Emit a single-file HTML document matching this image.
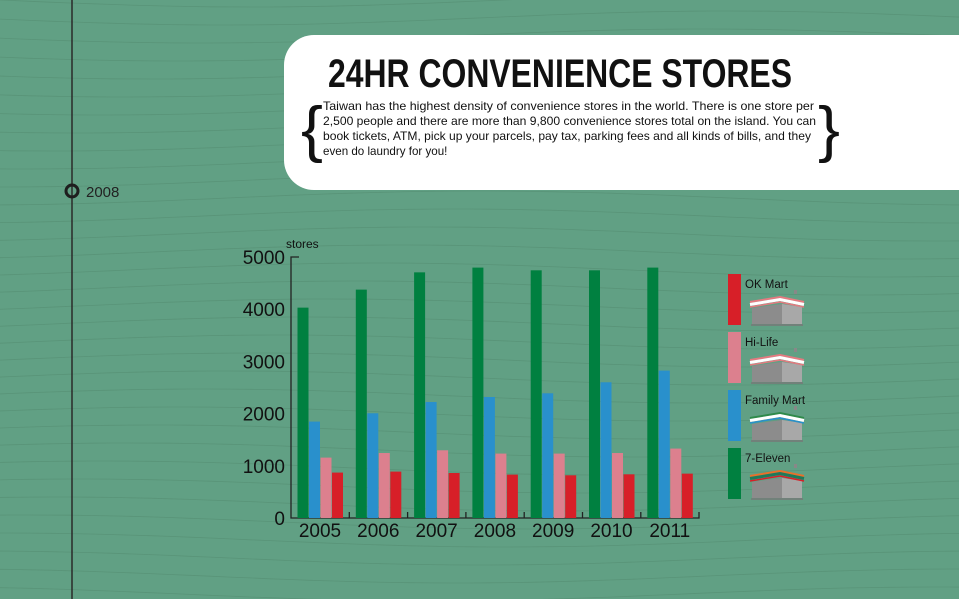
<!DOCTYPE html>
<html><head><meta charset="utf-8"><style>
html,body{margin:0;padding:0;width:959px;height:599px;overflow:hidden;background:#61a084}
svg{display:block}
text{font-family:"Liberation Sans",sans-serif}
</style></head><body>
<svg id="c" width="959" height="599" viewBox="0 0 959 599">
<g id="waves"></g>
<line x1="72" y1="0" x2="72" y2="599" stroke="#2a2a2a" stroke-width="1.5"/>
<circle cx="72" cy="191" r="6" fill="none" stroke="#1e1e1e" stroke-width="3"/>
<text x="86" y="197" font-size="15" fill="#222">2008</text>
<g>
<rect x="284" y="35" width="720" height="155" rx="30" fill="#fff"/>
<text x="328" y="87" font-size="40" font-weight="bold" textLength="464" lengthAdjust="spacingAndGlyphs" fill="#111">24HR CONVENIENCE STORES</text>
<text x="301" y="150" font-size="62" font-family="Liberation Serif" fill="#111" textLength="22" lengthAdjust="spacingAndGlyphs">{</text>
<text x="818" y="150" font-size="62" font-family="Liberation Serif" fill="#111" textLength="22" lengthAdjust="spacingAndGlyphs">}</text>
<g font-size="11.6" fill="#111">
<text x="323" y="110" textLength="491" lengthAdjust="spacingAndGlyphs">Taiwan has the highest density of convenience stores in the world. There is one store per</text>
<text x="323" y="125" textLength="493" lengthAdjust="spacingAndGlyphs">2,500 people and there are more than 9,800 convenience stores total on the island. You can</text>
<text x="323" y="140" textLength="488" lengthAdjust="spacingAndGlyphs">book tickets, ATM, pick up your parcels, pay tax, parking fees and all kinds of bills, and they</text>
<text x="323" y="155">even do laundry for you!</text>
</g>
</g>
<g id="chart"></g>
<g id="legend"></g>
</svg>
<script>
const years=["2005","2006","2007","2008","2009","2010","2011"];
const sevenEleven=[4030,4375,4706,4797,4745,4745,4797];
const familyMart=[1847,2006,2222,2318,2389,2600,2824];
const hiLife=[1157,1245,1297,1234,1234,1245,1330];
const okMart=[870,889,862,831,818,837,850];
const yTicks=[0,1000,2000,3000,4000,5000];
const seriesNames=["7-Eleven","Family Mart","Hi-Life","OK Mart"];
const seriesColors=["#008040","#2990cc","#dc808e","#d71f28"];
const NS="http://www.w3.org/2000/svg";
function mk(tag,attrs,parent){const e=document.createElementNS(NS,tag);for(const k in attrs)e.setAttribute(k,attrs[k]);parent.appendChild(e);return e;}
// waves
const w=document.getElementById('waves');
for(let i=-2;i<34;i++){const y0=i*18;let d="M-10 "+y0;for(let x=-10;x<=970;x+=20){d+=" L"+x+" "+(y0+Math.sin((x+i*25)/160)*7).toFixed(1);}
const p=mk('path',{d:d,fill:"none",stroke:"#558f74","stroke-width":"0.8",opacity:"0.7"},w);

}
// chart
const g=document.getElementById('chart');
const X0=291,Y0=518,PX_PER=52.2/1000,GW=58.3,BW=11.5;
const y=v=>Y0-v*PX_PER;
const xg=i=>X0+i*GW;
const ax=mk('path',{d:`M${X0+8} ${y(5000)} H${X0} V${Y0} H699 V${Y0-6}`,fill:"none",stroke:"#222","stroke-width":"1.3"},g);


yTicks.forEach(t=>{const tx=mk('text',{x:X0-6,y:y(t)+7,"font-size":"19","text-anchor":"end",fill:"#111"},g);tx.textContent=t;

});
const yl=mk('text',{x:286,y:248,"font-size":"12",fill:"#111"},g);yl.textContent="stores";


const all=[sevenEleven,familyMart,hiLife,okMart];
years.forEach((yr,i)=>{
 if(i>0){const tk=mk('line',{x1:xg(i),x2:xg(i),y1:Y0,y2:Y0-6,stroke:"#222","stroke-width":"1.3"},g);
 
 }
 all.forEach((s,k)=>{const r=mk('rect',{x:xg(i)+6.5+k*BW,y:y(s[i]),width:BW-0.5,height:Y0-y(s[i]),fill:seriesColors[k]},g);
 
 });
 const lt=mk('text',{x:xg(i)+29,y:Y0+19,"font-size":"19","text-anchor":"middle",fill:"#111"},g);lt.textContent=yr;
 
 
});
// legend
const L=document.getElementById('legend');
const roofTop=["#e47a80","#e47a80","#2f8a4a","#e8702a"];
const roofMid=["#ffffff","#ffffff","#ffffff","#1f7a5a"];
const roofBot=["#e47a80","#e47a80","#2990cc","#d71f28"];
["OK Mart","Hi-Life","Family Mart","7-Eleven"].forEach((n,j)=>{
 const k=seriesNames.indexOf(n),top=274+j*58;
 const e=mk('g',{},L);
 
 
 mk('rect',{x:728,y:top,width:13,height:51,fill:seriesColors[k]},e);
 const t=mk('text',{x:745,y:top+14,"font-size":"11.5",fill:"#111"},e);t.textContent=n;
 const b=top+22;
 mk('polygon',{points:`752,${b+12} 782,${b+8} 802,${b+11} 802,${b+28} 752,${b+28}`,fill:"#8c8c8c"},e);
 mk('polygon',{points:`782,${b+8} 802,${b+11} 802,${b+28} 782,${b+28}`,fill:"#a8a8a8"},e);
 mk('line',{x1:751,x2:803,y1:b+29,y2:b+29,stroke:"#777","stroke-width":"1.5"},e);
 mk('polyline',{points:`750,${b+6} 780,${b+1} 804,${b+6}`,fill:"none",stroke:roofTop[j],"stroke-width":"2"},e);
 mk('polyline',{points:`750,${b+8.5} 780,${b+3.5} 804,${b+8.5}`,fill:"none",stroke:roofMid[j],"stroke-width":"3"},e);
 mk('polyline',{points:`750,${b+11} 780,${b+6} 804,${b+11}`,fill:"none",stroke:roofBot[j],"stroke-width":"1.5"},e);
 mk('rect',{x:794,y:b-6,width:3,height:4,fill:"#888"},e);
});
</script>
</body></html>
